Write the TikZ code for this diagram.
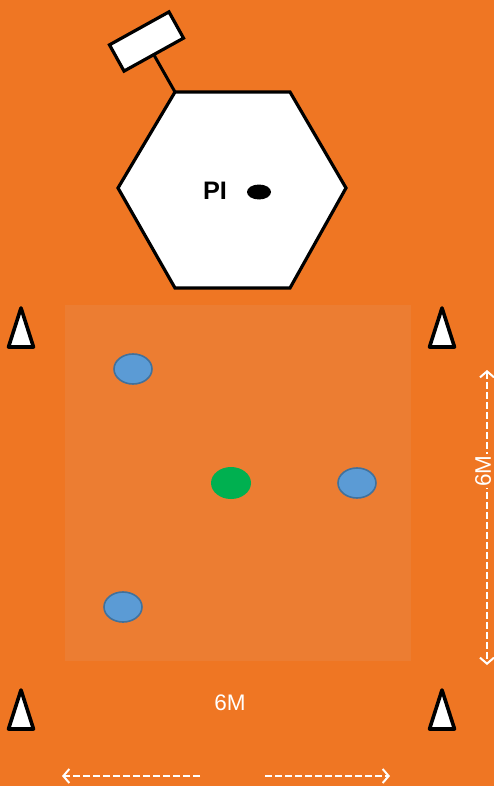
\documentclass[tikz,border=0pt]{standalone}
\usepackage{fontspec}
\setmainfont{Liberation Sans}
\usetikzlibrary{shapes.geometric,arrows.meta}

\definecolor{pitch}{RGB}{239,118,35}
\definecolor{zone}{RGB}{236,125,50}
\definecolor{playerfill}{RGB}{91,155,213}
\definecolor{playerline}{RGB}{65,113,156}
\definecolor{keeper}{RGB}{0,176,80}

\tikzset{
  player/.style={ellipse, fill=playerfill, draw=playerline, line width=0.8mm,
    minimum width=19mm, minimum height=15mm, inner sep=0pt},
  greenplayer/.style={ellipse, fill=keeper, minimum width=20mm, minimum height=16mm, inner sep=0pt},
  post/.style={draw=black, fill=white, line width=1.6mm, line join=miter},
  cone/.style={draw=black, fill=white, line width=1.8mm, line join=round},
  dim/.style={white, line width=1mm, dash pattern=on 3.5mm off 1.5mm,
    arrows={-Straight Barb[length=3mm,width=7mm]}},
  dimlabel/.style={text=white, font=\fontsize{32}{36}\selectfont, inner sep=1mm}
}

\def\ConeW{12.5}
\def\ConeH{39}

\begin{document}
\begin{tikzpicture}[x=0.5mm,y=-0.5mm]
  \useasboundingbox (0,0) rectangle (494,786);
  \fill[pitch] (0,0) rectangle (494,786);

  % --- Zona de juego ---
  \fill[zone] (65,305) rectangle (411,661);

  % --- Porteria ---
  \coordinate (hexTL) at (175,92);
  \draw[post] (hexTL) -- (290,92) -- (346,188) -- (290,288) -- (175,288) -- (118,188) -- cycle;
  \node[font=\bfseries\fontsize{36}{40}\selectfont, inner sep=0pt] (pi) at (215,191) {PI};
  \node[ellipse, fill=black, minimum width=12mm, minimum height=7.5mm, inner sep=0pt] (piDot) at (259,192) {};

  \node[post, rotate=29, minimum width=34mm, minimum height=15mm, outer sep=0pt] (sign) at (146.5,41.5) {};
  \draw[line width=1.5mm] (sign.south) -- (hexTL);

  % --- Conos ---
  \foreach \x/\y in {21/308, 442/308, 21/690, 442/690}{
    \draw[cone] (\x,\y) -- ++(\ConeW,\ConeH) -- ++(-2*\ConeW,0) -- cycle;
  }

  % --- Jugadores ---
  \node[player] (p1) at (133,369) {};
  \node[player] (p2) at (357,483) {};
  \node[player] (p3) at (123,607) {};
  \node[greenplayer] (g1) at (231,483) {};

  % --- Medidas ---
  \coordinate (vTop) at (487,370);
  \coordinate (vBot) at (487,665);
  \draw[dim, arrows={Straight Barb[length=3mm,width=7mm]-Straight Barb[length=3mm,width=7mm]}] (vTop) -- (vBot);
  \node[dimlabel, rotate=90, fill=pitch, inner sep=0.5mm] (vLabel) at (483,471) {6M};

  \coordinate (hLeft) at (62,776);
  \coordinate (hLeftStart) at (200,776);
  \coordinate (hRight) at (390,776);
  \coordinate (hRightStart) at (265,776);
  \draw[dim] (hLeftStart) -- (hLeft);
  \draw[dim] (hRightStart) -- (hRight);
  \node[dimlabel] (hLabel) at (230,703) {6M};
\end{tikzpicture}
\end{document}
